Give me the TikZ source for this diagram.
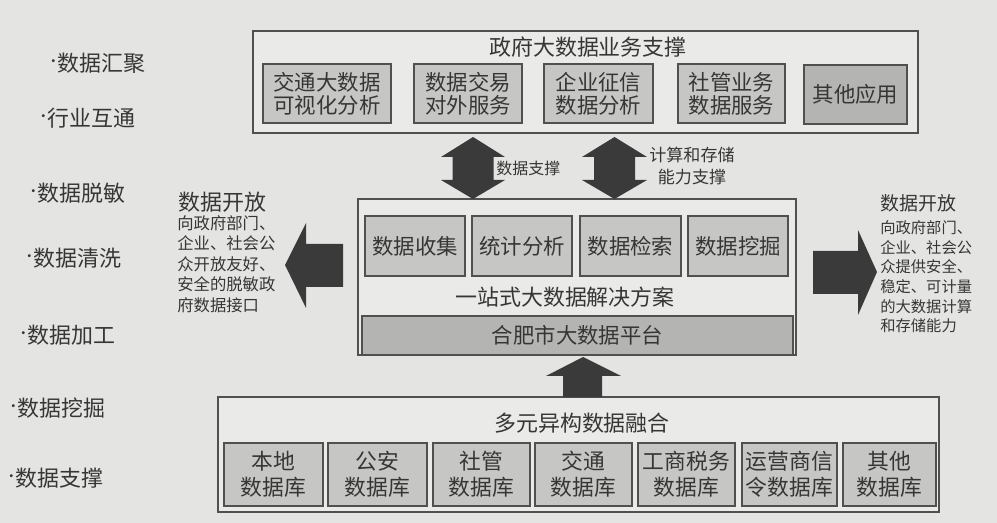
\documentclass[tikz,border=0pt]{standalone}
\usepackage{fontspec}
\setmainfont{Noto Sans CJK SC}
\definecolor{paper}{HTML}{E4E4E2}
\definecolor{pale}{HTML}{EAEAE8}
\definecolor{cellgray}{HTML}{C6C6C4}
\definecolor{darkcell}{HTML}{B4B4B2}
\definecolor{edge}{HTML}{505050}
\definecolor{arrowgray}{HTML}{3A3A3A}
\definecolor{ink}{HTML}{363636}
\newcommand{\dotitem}{\makebox[0.16cm]{\raisebox{2.6pt}{\fontsize{8pt}{8pt}\selectfont •}}}
\begin{document}
\begin{tikzpicture}[x=0.02cm, y=-0.02cm,
  every node/.style={text=ink, inner sep=0pt},
  frame/.style={draw=edge, line width=0.8pt, fill=pale},
  cell/.style={draw=edge, line width=0.7pt, fill=cellgray, align=center, font=\fontsize{12.2pt}{13.2pt}\selectfont},
  topcell/.style={cell, minimum height=1.18cm},
  midcell/.style={cell, minimum height=1.2cm},
  lowcell/.style={cell, minimum height=1.26cm, font=\fontsize{12.4pt}{14.8pt}\selectfont},
  title/.style={font=\fontsize{12.5pt}{14pt}\selectfont},
  item/.style={anchor=west, font=\fontsize{12.5pt}{14pt}\selectfont},
  blockarrow/.style={fill=arrowgray}]
\fill[paper] (0,0) rectangle (997,523);

\node[frame, minimum width=13.3cm, minimum height=2.04cm] (T) at (585.5,82) {};
\node[title] (T0) at (588,47) {政府大数据业务支撑};
\node[topcell, minimum width=2.56cm] (T1) at (327,93.5) {交通大数据\\可视化分析};
\node[topcell, minimum width=2.16cm] (T2) at (468,93.5) {数据交易\\对外服务};
\node[topcell, minimum width=2.18cm] (T3) at (598.5,93.5) {企业征信\\数据分析};
\node[topcell, minimum width=2.14cm] (T4) at (731.5,93.5) {社管业务\\数据服务};
\node[topcell, minimum width=2.06cm, fill=darkcell] (T5) at (855.5,94.5) {其他应用};

\node[frame, minimum width=8.76cm, minimum height=3.12cm] (M) at (577,277) {};
\node[midcell, minimum width=2.0cm] (M1) at (415,246) {数据收集};
\node[midcell, minimum width=2.0cm] (M2) at (522,246) {统计分析};
\node[midcell, minimum width=2.02cm] (M3) at (630.5,246) {数据检索};
\node[midcell, minimum width=2.0cm] (M4) at (738,246) {数据挖掘};
\node[title] (M0) at (565,297) {一站式大数据解决方案};
\node[cell, fill=darkcell, minimum width=8.62cm, minimum height=0.78cm] (P) at (577.5,335.5) {合肥市大数据平台};

\node[frame, minimum width=14.42cm, minimum height=2.3cm] (B) at (578.5,454.5) {};
\node[title] (B0) at (582,423) {多元异构数据融合};
\node[lowcell, minimum width=1.98cm] (B1) at (273.5,474.5) {本地\\数据库};
\node[lowcell, minimum width=1.98cm] (B2) at (377.5,474.5) {公安\\数据库};
\node[lowcell, minimum width=1.94cm] (B3) at (481.5,474.5) {社管\\数据库};
\node[lowcell, minimum width=1.94cm] (B4) at (583.5,474.5) {交通\\数据库};
\node[lowcell, minimum width=1.94cm] (B5) at (686.5,474.5) {工商税务\\数据库};
\node[lowcell, minimum width=1.9cm] (B6) at (789.5,474.5) {运营商信\\令数据库};
\node[lowcell, minimum width=1.86cm] (B7) at (889.5,474.5) {其他\\数据库};

\fill[blockarrow] (473,137) -- (505,157) -- (493.5,157) -- (493.5,180) -- (505,180) -- (473,199)
  -- (441,180) -- (452.5,180) -- (452.5,157) -- (441,157) -- cycle;
\fill[blockarrow] (614.5,137) -- (647,157) -- (635,157) -- (635,180) -- (647,180) -- (614.5,199)
  -- (582,180) -- (594,180) -- (594,157) -- (582,157) -- cycle;
\fill[blockarrow] (583,357) -- (621,376) -- (602,376) -- (602,397) -- (563,397) -- (563,376) -- (546,376) -- cycle;
\fill[blockarrow] (285,265) -- (306,223) -- (306,244) -- (343,244) -- (343,287) -- (306,287) -- (306,308) -- cycle;
\fill[blockarrow] (877,272) -- (858,230) -- (858,251) -- (813,251) -- (813,294) -- (858,294) -- (858,315) -- cycle;

\node[anchor=west, font=\fontsize{9.1pt}{11pt}\selectfont] (A1) at (496,168) {数据支撑};
\node[align=center, font=\fontsize{9.7pt}{13pt}\selectfont] (A2) at (692,166) {计算和存储\\能力支撑};

\node[anchor=west, font=\fontsize{12.5pt}{14pt}\selectfont] (LO) at (178,202) {数据开放};
\node[anchor=north west, align=left, font=\fontsize{9.3pt}{11.7pt}\selectfont] (LT) at (177,215) {向政府部门、\\企业、社会公\\众开放友好、\\安全的脱敏政\\府数据接口};
\node[anchor=west, font=\fontsize{10.8pt}{13pt}\selectfont] (RO) at (880,203) {数据开放};
\node[anchor=north west, align=left, font=\fontsize{8.7pt}{11.2pt}\selectfont] (RT) at (880,220) {向政府部门、\\企业、社会公\\众提供安全、\\稳定、可计量\\的大数据计算\\和存储能力};

\node[item] (L1) at (49,63) {\dotitem 数据汇聚};
\node[item] (L2) at (39,118) {\dotitem 行业互通};
\node[item] (L3) at (29,193) {\dotitem 数据脱敏};
\node[item] (L4) at (25,258) {\dotitem 数据清洗};
\node[item] (L5) at (19,335) {\dotitem 数据加工};
\node[item] (L6) at (9,408) {\dotitem 数据挖掘};
\node[item] (L7) at (7,478) {\dotitem 数据支撑};
\end{tikzpicture}
\end{document}
